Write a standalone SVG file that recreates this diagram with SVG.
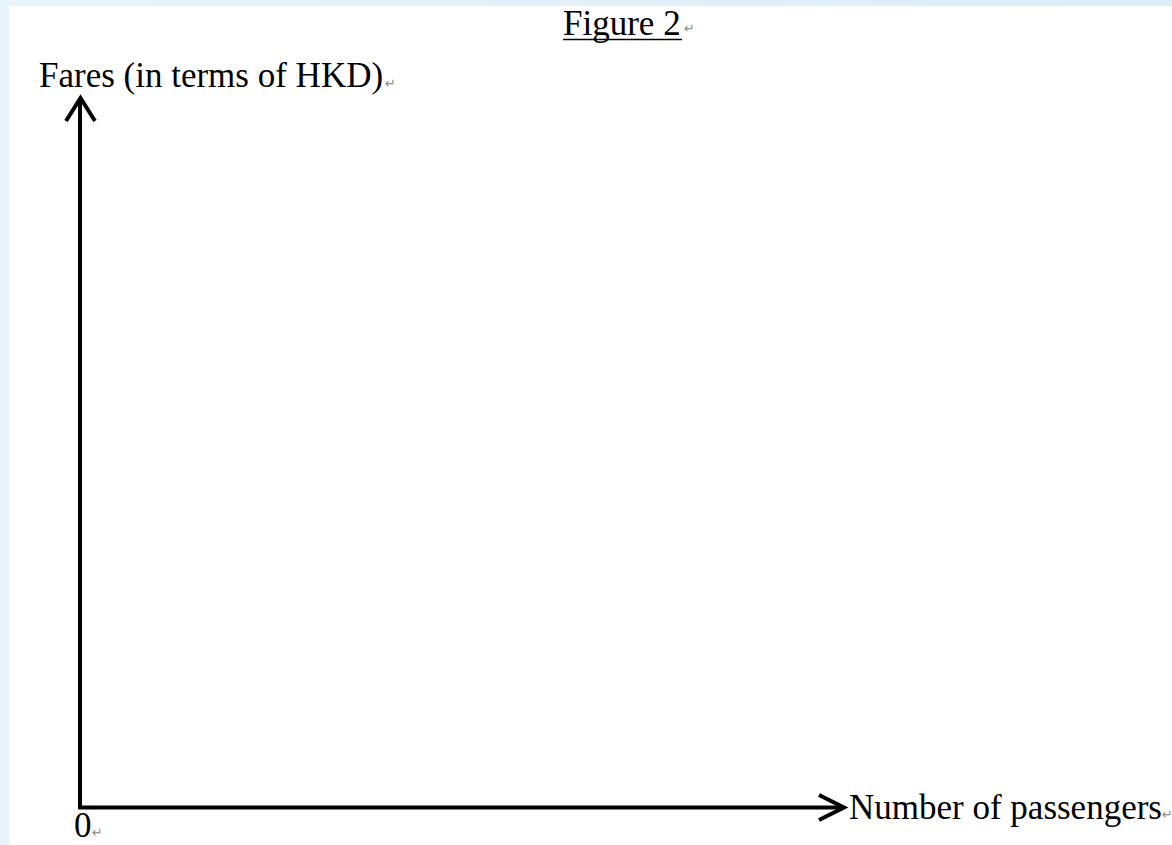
<svg xmlns="http://www.w3.org/2000/svg" width="1172" height="845" viewBox="0 0 1172 845">
<style>
.t{font-family:"Liberation Serif","Times New Roman",serif;font-size:35px;fill:#000}
.pm{font-family:"DejaVu Sans",sans-serif;font-size:13px;fill:#888}
.ax{stroke:#000;stroke-width:4;fill:none}
.ah{stroke:#000;stroke-width:4;fill:none;stroke-linecap:butt;stroke-linejoin:miter}
</style>
<defs>
<linearGradient id="bg" x1="0" y1="0" x2="1" y2="0">
<stop offset="0" stop-color="#e8f4fc"/>
<stop offset="1" stop-color="#dcedf9"/>
</linearGradient>
</defs>
<rect x="0" y="0" width="1172" height="845" fill="url(#bg)"/>
<rect x="9" y="6" width="1163" height="839" fill="#ffffff"/>
<g id="title">
<text class="t" x="563" y="35">Figure 2</text>
<line x1="563" y1="39.5" x2="682" y2="39.5" stroke="#000" stroke-width="1.5"/>
<text class="pm" x="684" y="33">↵</text>
</g>
<g id="y-label">
<text class="t" x="39" y="87">Fares (in terms of HKD)</text>
<text class="pm" x="385" y="88">↵</text>
</g>
<g id="origin">
<text class="t" x="74" y="837">0</text>
<text class="pm" x="92" y="837">↵</text>
</g>
<g id="x-label">
<text class="t" x="849" y="819">Number of passengers</text>
<text class="pm" x="1162" y="819">↵</text>
</g>
<g id="connectors">
<path class="ax" d="M80,99 V807.5 H844"/>
<path class="ah" d="M66,121 L80.5,98 L95,121"/>
<path class="ah" d="M819,795 L844,807.5 L819,820"/>
</g>
</svg>
